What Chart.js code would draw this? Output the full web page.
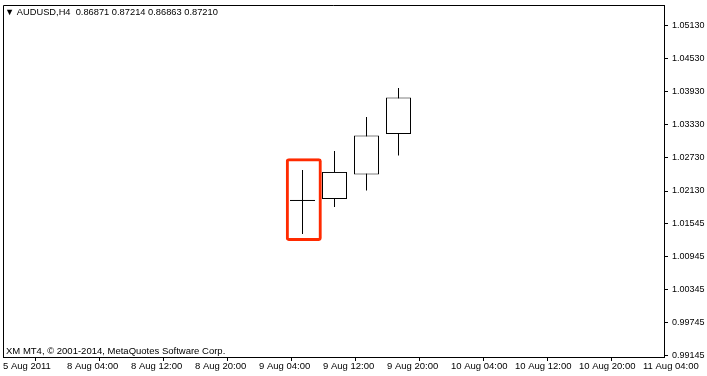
<!DOCTYPE html>
<html>
<head>
<meta charset="utf-8">
<script src="https://cdn.jsdelivr.net/npm/chart.js@4.4.1/dist/chart.umd.min.js"></script>
<style>
  html, body { margin: 0; padding: 0; background: #fff; }
  #wrap { width: 707px; height: 376px; position: relative; }
</style>
</head>
<body>
<div id="wrap"><canvas id="chart"></canvas></div>
<script>
  // header + footer texts
  var symbolTitle = '\u25BC AUDUSD,H4  0.86871 0.87214 0.86863 0.87210';
  var copyrightText = 'XM MT4, \u00A9 2001-2014, MetaQuotes Software Corp.';

  // candles, x = H4 bar index from the left edge
  var barX = [9.3594, 10.3594, 11.3594, 12.3594];
  var openPrices = [1.01958, 1.01985, 1.02430, 1.03165];
  var highPrices = [1.02512, 1.02857, 1.03474, 1.04000];
  var lowPrices = [1.01350, 1.01840, 1.02140, 1.02775];
  var closePrices = [1.01958, 1.02476, 1.03138, 1.03828];

  // red frame round the doji
  var markX = 9.40;
  var markRange = [1.01223, 1.02724];

  // time axis
  var timeTicks = [0, 2, 4, 6, 8, 10, 12, 14, 16, 18, 20];
  var timeLabels = ['5 Aug 2011', '8 Aug 04:00', '8 Aug 12:00', '8 Aug 20:00', '9 Aug 04:00',
    '9 Aug 12:00', '9 Aug 20:00', '10 Aug 04:00', '10 Aug 12:00', '10 Aug 20:00', '11 Aug 04:00'];

  // price axis
  var priceTicks = [1.05130, 1.04530, 1.03930, 1.03330, 1.02730, 1.02130,
    1.01545, 1.00945, 1.00345, 0.99745, 0.99145];

  var frameText = {
    id: 'frameText',
    afterDraw: function (chart) {
      var ctx = chart.ctx;
      var a = chart.chartArea;
      ctx.save();
      ctx.strokeStyle = '#000';
      ctx.lineWidth = 1;
      ctx.beginPath();
      ctx.moveTo(Math.round(a.left) + 0.5, Math.round(a.bottom));
      ctx.lineTo(Math.round(a.left) + 0.5, Math.round(a.top) + 0.5);
      ctx.lineTo(Math.round(a.right), Math.round(a.top) + 0.5);
      ctx.stroke();
      ctx.fillStyle = '#000';
      ctx.textBaseline = 'alphabetic';
      ctx.textAlign = 'left';
      ctx.font = '9.3px "Liberation Sans"';
      ctx.fillText(symbolTitle, a.left + 2, a.top + 10);
      ctx.font = '9.5px "Liberation Sans"';
      ctx.fillText(copyrightText, a.left + 3, a.bottom - 3);
      ctx.restore();
    }
  };

  function noPad(s) {
    s.paddingLeft = 0;
    s.paddingRight = 0;
    s.paddingTop = 0;
    s.paddingBottom = 0;
  }

  var wickData = barX.map(function (x, i) { return {x: x, y: [lowPrices[i], highPrices[i]]}; });
  var bodyData = barX.map(function (x, i) { return {x: x, y: [openPrices[i], closePrices[i]]}; });
  var dojiData = barX.map(function (x, i) { return {x: x, y: closePrices[i]}; })
    .filter(function (p, i) { return openPrices[i] === closePrices[i]; });

  new Chart(document.getElementById('chart'), {
    type: 'bar',
    data: {
      datasets: [
        {
          data: [{x: markX, y: markRange}],
          backgroundColor: 'rgba(0,0,0,0)',
          borderColor: '#ff2a00',
          borderWidth: 3,
          borderRadius: 3,
          borderSkipped: false,
          barThickness: 36,
          inflateAmount: 0,
          grouped: false,
          order: 0
        },
        {
          type: 'scatter',
          data: dojiData,
          pointStyle: 'line',
          pointRadius: 12.5,
          pointHoverRadius: 12.5,
          borderColor: '#000',
          borderWidth: 1,
          order: 1
        },
        {
          data: bodyData,
          backgroundColor: '#fff',
          borderColor: '#000',
          borderWidth: 1,
          borderSkipped: false,
          barThickness: 25,
          inflateAmount: 0,
          grouped: false,
          order: 2
        },
        {
          data: wickData,
          backgroundColor: '#000',
          borderWidth: 0,
          barThickness: 1,
          inflateAmount: 0,
          grouped: false,
          order: 3
        }
      ]
    },
    options: {
      responsive: true,
      maintainAspectRatio: false,
      animation: false,
      layout: {autoPadding: false, padding: {left: 3, top: 5, right: 0, bottom: 0}},
      plugins: {
        legend: {display: false},
        tooltip: {enabled: false},
        title: {display: false}
      },
      scales: {
        x: {
          type: 'linear',
          position: 'bottom',
          min: 0,
          max: 20.656,
          offset: false,
          grid: {display: true, drawOnChartArea: false, drawTicks: true, tickLength: 4, color: '#000'},
          border: {display: true, color: '#000'},
          ticks: {
            align: 'start',
            color: '#000',
            font: {family: 'Liberation Sans', size: 9.5},
            padding: 0,
            maxRotation: 0,
            autoSkip: false,
            callback: function (v) { return timeLabels[timeTicks.indexOf(v)]; }
          },
          afterBuildTicks: function (s) { s.ticks = timeTicks.map(function (v) { return {value: v}; }); },
          afterFit: function (s) { s.height = 19; noPad(s); }
        },
        y: {
          type: 'linear',
          position: 'right',
          min: 0.99118,
          max: 1.05505,
          grid: {display: true, drawOnChartArea: false, drawTicks: true, tickLength: 4, color: '#000'},
          border: {display: true, color: '#000'},
          ticks: {
            color: '#000',
            font: {family: 'Liberation Sans', size: 9},
            padding: 4,
            callback: function (v) { return v.toFixed(5); }
          },
          afterBuildTicks: function (s) { s.ticks = priceTicks.map(function (v) { return {value: v}; }); },
          afterFit: function (s) { s.width = 43; noPad(s); }
        }
      }
    },
    plugins: [frameText]
  });
</script>
</body>
</html>
